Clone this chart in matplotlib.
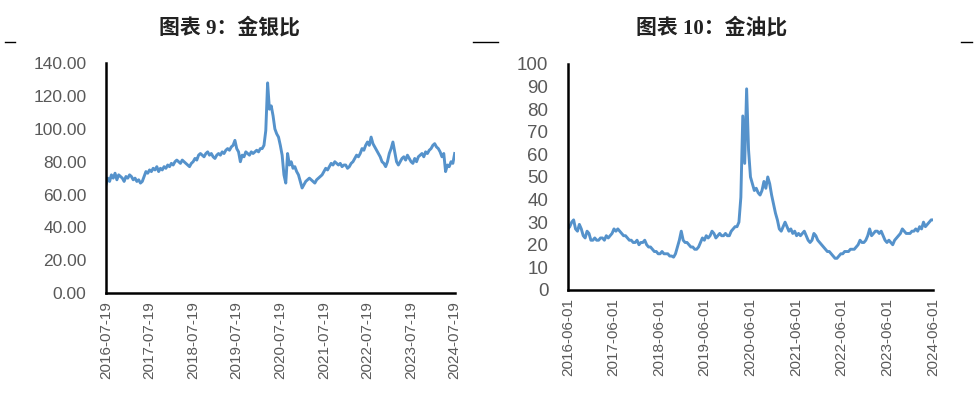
import numpy as np
import pandas as pd
import matplotlib.pyplot as plt
import matplotlib.dates as mdates
from matplotlib.lines import Line2D

# 金银比, semi-monthly readings, 2016-07-19 .. 2024-07-19
gold_silver = [
    66, 70, 68, 72, 70, 73, 69, 72, 71, 70, 68, 71, 70, 72, 71, 69, 70, 68, 69, 67, 68, 71, 74, 73,
    75, 74, 76, 75, 77, 74, 76, 75, 77, 76, 78, 77, 79, 78, 80, 81, 80, 79, 81, 80, 79, 78, 77, 79,
    80, 82, 81, 84, 85, 84, 83, 85, 86, 84, 85, 83, 82, 84, 85, 84, 86, 85, 87, 88, 87, 89, 90, 93,
    88, 86, 80, 84, 83, 86, 85, 84, 86, 85, 86, 87, 86, 88, 88, 90, 99, 128, 112, 114, 108, 100, 97, 95,
    90, 84, 72, 67, 85, 78, 80, 76, 77, 74, 72, 68, 64, 66, 68, 69, 70, 69, 68, 67, 69, 70, 71, 72,
    74, 76, 75, 77, 79, 78, 80, 79, 78, 79, 77, 78, 78, 76, 77, 79, 80, 82, 84, 83, 85, 88, 87, 90,
    92, 90, 95, 91, 89, 87, 85, 83, 80, 79, 77, 80, 85, 88, 92, 86, 80, 78, 80, 82, 83, 81, 84, 82,
    80, 79, 82, 80, 83, 84, 85, 83, 86, 85, 87, 88, 90, 91, 89, 88, 86, 83, 85, 74, 78, 77, 80, 79,
    85,
]

# 金油比, semi-monthly readings, 2016-06-01 .. 2024-06-01
gold_oil = [
    27, 28, 30, 31, 27, 26, 29, 27, 24, 23, 26, 25, 22, 22, 23, 22, 22, 23, 23, 22, 24, 23, 24, 25,
    27, 26, 27, 26, 25, 24, 24, 23, 22, 22, 21, 21, 22, 20, 21, 21, 22, 20, 19, 19, 18, 17, 17, 16,
    16, 17, 16, 16, 16, 15, 15, 14.5, 16, 19, 22, 26, 22, 21, 21, 20, 19, 19, 18, 18, 19, 21, 23, 22,
    24, 23, 24, 26, 25, 23, 24, 25, 24, 24, 25, 24, 24, 26, 27, 28, 28, 30, 41, 77, 56, 89, 62, 50,
    47, 44, 45, 43, 42, 44, 48, 45, 50, 47, 42, 38, 34, 31, 27, 26, 28, 30, 28, 26, 27, 25, 26, 24,
    25, 24, 25, 26, 24, 22, 21, 22, 25, 24, 22, 21, 20, 19, 18, 17, 17, 16, 15, 14, 14, 15,
    16, 16, 17, 17, 17, 18, 18, 18, 19, 20, 22, 21, 21, 22, 24, 27, 24, 25, 26, 26, 25, 26, 24, 22,
    21, 22, 21, 20, 22, 23, 24, 25, 27, 26, 25, 25, 25, 26, 26, 27, 26, 28, 27, 30, 28, 29, 30, 31,
    31,
]

left_ticks = pd.date_range("2016-07-19", periods=9, freq=pd.DateOffset(years=1))
right_ticks = pd.date_range("2016-06-01", periods=9, freq=pd.DateOffset(years=1))
left_dates = pd.date_range(left_ticks[0], left_ticks[-1], periods=len(gold_silver))
right_dates = pd.date_range(right_ticks[0], right_ticks[-1], periods=len(gold_oil))

line_color = "#5592CB"
label_color = "#595959"
title_font = ["Liberation Serif", "Noto Sans CJK SC"]

fig = plt.figure(figsize=(9.74, 3.95), dpi=100)
ax1 = fig.add_axes([0.1088, 0.258, 0.358, 0.582])
ax2 = fig.add_axes([0.583, 0.266, 0.375, 0.572])


def style(ax, ticks, ysize):
    for s in ["top", "right"]:
        ax.spines[s].set_visible(False)
    for s in ["left", "bottom"]:
        ax.spines[s].set_linewidth(1.8)
        ax.spines[s].set_color("black")
    ax.set_xticks(ticks)
    ax.xaxis.set_major_formatter(mdates.DateFormatter("%Y-%m-%d"))
    ax.set_xlim(ticks[0], ticks[-1])
    ax.tick_params(axis="both", length=0, colors=label_color)
    ax.tick_params(axis="x", labelsize=11, rotation=90, pad=6)
    ax.tick_params(axis="y", labelsize=ysize, pad=14)
    for lab in ax.get_xticklabels() + ax.get_yticklabels():
        lab.set_family("Liberation Sans")


ax1.plot(left_dates, gold_silver, color=line_color, lw=2.1)
style(ax1, left_ticks, 12.5)
ax1.set_ylim(0, 140)
ax1.set_yticks(np.arange(0, 141, 20))
ax1.set_yticklabels([f"{v:.2f}" for v in np.arange(0, 141, 20)])

ax2.plot(right_dates, gold_oil, color=line_color, lw=2.1)
style(ax2, right_ticks, 13.5)
ax2.set_ylim(0, 100)
ax2.set_yticks(np.arange(0, 101, 10))

fig.text(0.236, 0.93, "图表 9：金银比", ha="center", va="center",
         fontsize=15, fontweight="bold", family=title_font, color="#222222")
fig.text(0.731, 0.93, "图表 10：金油比", ha="center", va="center",
         fontsize=15, fontweight="bold", family=title_font, color="#222222")

# little separator dashes above the charts
for x0, x1 in [(5, 15), (473, 498), (961, 972)]:
    fig.add_artist(Line2D([x0 / 974, x1 / 974], [1 - 42 / 395] * 2,
                          color="black", lw=1))

plt.savefig("out.png", dpi=100)
plt.close()
